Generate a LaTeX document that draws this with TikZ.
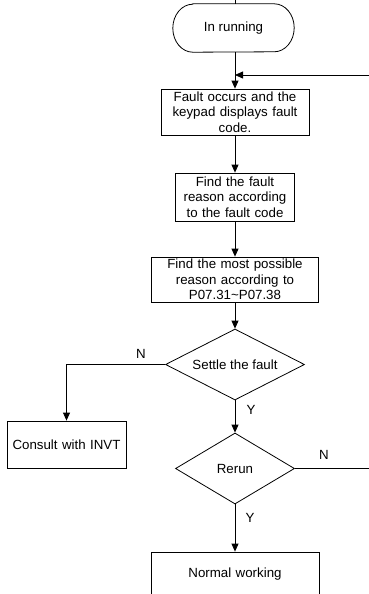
\documentclass[tikz,border=0pt]{standalone}
\usepackage{fontspec}
\setmainfont{Liberation Sans}
\usetikzlibrary{arrows.meta,positioning,shapes.geometric}
\tikzset{txt/.style={font=\fontsize{13.3}{15.5}\selectfont},
  proc/.style={txt,draw,rectangle,line width=.8pt,inner sep=0pt,align=center},
  decide/.style={txt,draw,diamond,aspect=2,line width=.8pt,inner sep=0pt},
  term/.style={txt,rectangle,inner sep=0pt},
  flow/.style={line width=.8pt,-{Triangle[length=8pt,width=7pt]}},
  wire/.style={line width=.8pt}}
\begin{document}
\begin{tikzpicture}[x=1pt,y=-1pt]
\useasboundingbox (0,0) rectangle (368,594);
\node[term,minimum width=121pt,minimum height=48pt] (run) at (233.5,28) {In running};
% outline of the start terminal, flattened ends
\draw[wire] ([xshift=20pt]run.north west) -- ([xshift=-20pt]run.north east)
  arc[start angle=90,end angle=-90,x radius=20pt,y radius=24pt]
  -- ([xshift=20pt]run.south west)
  arc[start angle=270,end angle=90,x radius=20pt,y radius=24pt] -- cycle;
\node[proc,text width=148pt,minimum height=46pt] (occur) at (235,112) {Fault occurs and the\\keypad displays fault\\code.};
\node[proc,text width=119pt,minimum height=48pt] (find) at (235,197) {Find the fault\\reason according\\to the fault code};
\node[proc,text width=167pt,minimum height=45pt] (most) at (235,279.5) {Find the most possible\\reason according to\\P07.31\textasciitilde P07.38};
\node[decide,minimum width=139pt,minimum height=71pt] (settle) at (235,364.5) {Settle the fault};
\node[proc,text width=119pt,minimum height=47pt] (invt) at (66.5,444.5) {Consult with INVT};
\node[decide,minimum width=119pt,minimum height=71pt] (rerun) at (235,468.5) {Rerun};
\node[proc,text width=168pt,minimum height=44pt] (normal) at (235,574) {Normal working};
% free ends at the picture's edges
\coordinate (top) at (235,-2);
\coordinate (back) at (370,75);
\coordinate (out) at (370,468.5);
\draw[wire] (top) -- (top |- run.north);
\draw[flow] (top |- run.south) -- (occur);
\draw[flow] (back) -- (back -| occur.north);
\draw[flow] (occur) -- (find);
\draw[flow] (find) -- (most);
\draw[flow] (most) -- (settle);
\draw[flow] (settle.west) -| (invt.north);
\draw[flow] (settle.south) -- (rerun.north);
\draw[wire] (rerun.east) -- (out);
\draw[flow] (rerun.south) -- (normal.north);
\node[txt] (n1) at (141,354) {N};
\node[txt] (y1) at (251,410) {Y};
\node[txt] (n2) at (324,455) {N};
\node[txt] (y2) at (250,518) {Y};
\end{tikzpicture}
\end{document}
